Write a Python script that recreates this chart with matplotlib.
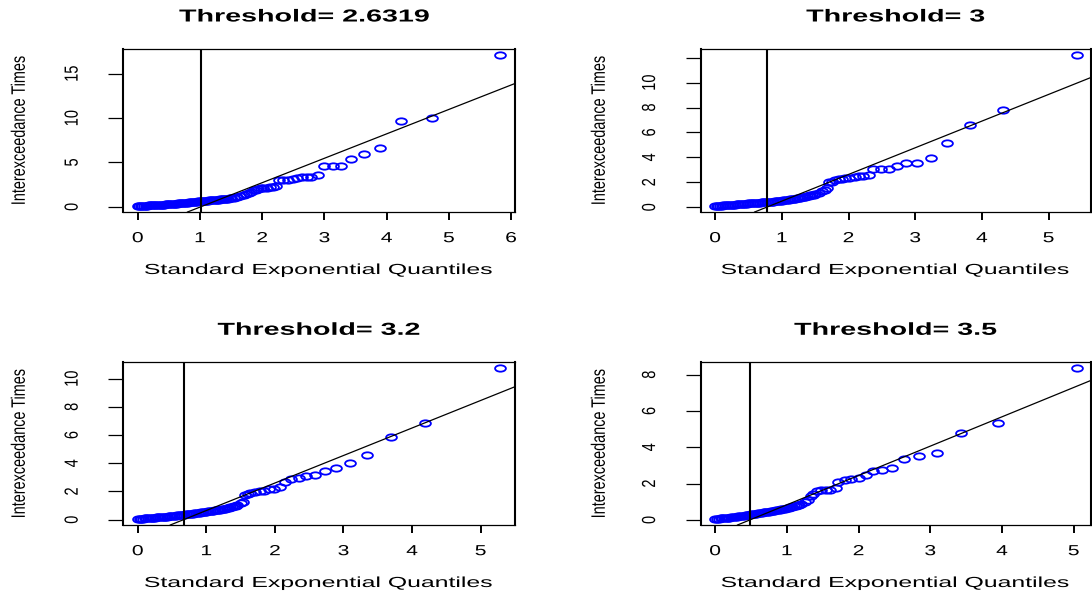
import numpy as np
import matplotlib
matplotlib.use("Agg")
import matplotlib.pyplot as plt
from matplotlib.path import Path
from matplotlib.patheffects import AbstractPathEffect
from matplotlib.transforms import Affine2D

# threshold used for each panel
thresholds = ["2.6319", "3", "3.2", "3.5"]

# quantile positions of the crowded lower part, shared by all panels
dense_q = [0.000, 0.025, 0.050, 0.075, 0.100, 0.125, 0.150, 0.175, 0.200, 0.225,
           0.250, 0.275, 0.300, 0.325, 0.350, 0.375, 0.400, 0.425, 0.450, 0.475,
           0.500, 0.525, 0.550, 0.575, 0.600, 0.625, 0.650, 0.675, 0.700, 0.725,
           0.750, 0.775, 0.800, 0.825, 0.850, 0.875, 0.900, 0.925, 0.950, 0.975,
           1.000, 1.025, 1.050, 1.075, 1.100, 1.125, 1.150, 1.175, 1.200, 1.225,
           1.250, 1.275, 1.300, 1.325, 1.350, 1.375, 1.400, 1.425, 1.450, 1.475,
           1.500]

# sorted interexceedance times: crowded part, then the upper tail
t1_low = [0.10, 0.11, 0.11, 0.12, 0.13, 0.14, 0.15, 0.16, 0.17, 0.18,
          0.19, 0.20, 0.21, 0.22, 0.23, 0.24, 0.25, 0.26, 0.27, 0.28,
          0.30, 0.31, 0.33, 0.34, 0.36, 0.37, 0.39, 0.41, 0.43, 0.44,
          0.46, 0.48, 0.49, 0.51, 0.53, 0.54, 0.56, 0.58, 0.60, 0.62,
          0.64, 0.65, 0.67, 0.68, 0.70, 0.71, 0.72, 0.74, 0.75, 0.77,
          0.78, 0.80, 0.81, 0.83, 0.84, 0.86, 0.88, 0.90, 0.92, 0.95,
          0.98]
q1_tail = [1.55, 1.60, 1.65, 1.70, 1.74, 1.78, 1.82, 1.86, 1.90, 1.94,
           1.98, 2.02, 2.07, 2.12, 2.17, 2.22, 2.27, 2.34, 2.41, 2.49,
           2.56, 2.64, 2.72, 2.79, 2.90, 2.99, 3.13, 3.27, 3.43, 3.64,
           3.89, 4.23, 4.73, 5.83]
t1_tail = [1.03, 1.10, 1.18, 1.28, 1.40, 1.55, 1.70, 1.85, 1.95, 2.03,
           2.08, 2.12, 2.15, 2.20, 2.24, 2.30, 3.01, 3.08, 3.08, 3.12,
           3.27, 3.38, 3.38, 3.38, 3.57, 4.55, 4.62, 4.62, 5.34, 5.98,
           6.58, 9.62, 9.96, 17.1]

t2_low = [0.10, 0.11, 0.11, 0.12, 0.13, 0.14, 0.15, 0.16, 0.17, 0.18,
          0.19, 0.20, 0.21, 0.22, 0.23, 0.24, 0.25, 0.26, 0.27, 0.28,
          0.30, 0.31, 0.32, 0.33, 0.34, 0.35, 0.36, 0.37, 0.38, 0.39,
          0.40, 0.41, 0.42, 0.43, 0.44, 0.45, 0.46, 0.48, 0.49, 0.51,
          0.53, 0.55, 0.56, 0.58, 0.60, 0.62, 0.64, 0.66, 0.68, 0.71,
          0.73, 0.76, 0.78, 0.81, 0.84, 0.87, 0.90, 0.94, 0.97, 1.01,
          1.05]
q2_tail = [1.55, 1.60, 1.64, 1.68, 1.70, 1.75, 1.80, 1.85, 1.90, 1.95,
           2.01, 2.09, 2.15, 2.21, 2.30, 2.37, 2.49, 2.60, 2.72, 2.86,
           3.02, 3.23, 3.47, 3.82, 4.31, 5.42]
t2_tail = [1.15, 1.30, 1.42, 1.55, 2.00, 2.05, 2.15, 2.26, 2.26, 2.31,
           2.31, 2.42, 2.47, 2.52, 2.60, 3.09, 3.09, 3.09, 3.33, 3.54,
           3.54, 3.97, 5.15, 6.63, 7.81, 12.21]

t3_low = [0.05, 0.06, 0.07, 0.08, 0.09, 0.10, 0.11, 0.12, 0.13, 0.14,
          0.15, 0.16, 0.17, 0.18, 0.19, 0.20, 0.21, 0.22, 0.23, 0.24,
          0.25, 0.27, 0.28, 0.30, 0.31, 0.33, 0.34, 0.36, 0.37, 0.39,
          0.40, 0.42, 0.43, 0.45, 0.46, 0.48, 0.49, 0.51, 0.52, 0.54,
          0.56, 0.58, 0.60, 0.62, 0.64, 0.66, 0.68, 0.70, 0.72, 0.74,
          0.76, 0.79, 0.81, 0.84, 0.87, 0.91, 0.95, 0.99, 1.05]
q3_tail = [1.50, 1.53, 1.56, 1.60, 1.64, 1.71, 1.78, 1.84, 1.91, 1.98,
           2.07, 2.15, 2.24, 2.35, 2.45, 2.58, 2.73, 2.89, 3.09, 3.34,
           3.69, 4.19, 5.29]
t3_tail = [1.15, 1.25, 1.76, 1.80, 1.87, 1.96, 2.01, 2.06, 2.15, 2.15,
           2.29, 2.70, 2.91, 2.98, 3.12, 3.17, 3.48, 3.69, 4.04, 4.56,
           5.84, 6.88, 10.73]

t4_low = [0.05, 0.06, 0.07, 0.08, 0.09, 0.10, 0.11, 0.12, 0.13, 0.14,
          0.15, 0.17, 0.18, 0.20, 0.21, 0.23, 0.24, 0.26, 0.27, 0.29,
          0.30, 0.32, 0.33, 0.35, 0.36, 0.38, 0.39, 0.41, 0.42, 0.44,
          0.45, 0.47, 0.49, 0.51, 0.53, 0.55, 0.56, 0.58, 0.60, 0.62,
          0.64, 0.66, 0.69, 0.71, 0.74, 0.77, 0.80, 0.84, 0.88]
q4_tail = [1.25, 1.29, 1.33, 1.37, 1.42, 1.48, 1.54, 1.60, 1.68, 1.72,
           1.81, 1.90, 2.00, 2.10, 2.20, 2.33, 2.47, 2.64, 2.84, 3.09,
           3.43, 3.94, 5.04]
t4_tail = [0.98, 1.10, 1.30, 1.45, 1.58, 1.64, 1.64, 1.64, 1.75, 2.08,
           2.18, 2.23, 2.29, 2.45, 2.69, 2.73, 2.86, 3.34, 3.52, 3.71,
           4.81, 5.35, 8.35]

low_times = [t1_low, t2_low, t3_low, t4_low]
tail_quantiles = [q1_tail, q2_tail, q3_tail, q4_tail]
tail_times = [t1_tail, t2_tail, t3_tail, t4_tail]

# vertical cut and fitted line (passes through (cut, 0))
cuts = [1.01, 0.772, 0.667, 0.486]
slopes = [2.75, 2.14, 1.95, 1.616]

xticks = [[0, 1, 2, 3, 4, 5, 6], [0, 1, 2, 3, 4, 5], [0, 1, 2, 3, 4, 5], [0, 1, 2, 3, 4, 5]]
yticks = [[0, 5, 10, 15], [0, 2, 4, 6, 8, 10, 12], [0, 2, 4, 6, 8, 10], [0, 2, 4, 6, 8]]
ytick_labels = [["0", "5", "10", "15"], ["0", "2", "4", "6", "8", "10", ""],
                ["0", "2", "4", "6", "8", "10"], ["0", "2", "4", "6", "8"]]


class Widen(AbstractPathEffect):
    """Stretch text horizontally about its own centre."""

    def __init__(self, sx):
        super().__init__()
        self.sx = sx

    def draw_path(self, renderer, gc, tpath, affine, rgbFace=None):
        box = tpath.get_extents(affine)
        cx = 0.5 * (box.x0 + box.x1)
        aff = affine + Affine2D().translate(-cx, 0).scale(self.sx, 1).translate(cx, 0)
        renderer.draw_path(gc, tpath, aff, rgbFace)


plt.rcParams['font.family'] = ['Liberation Sans', 'DejaVu Sans']

# open ellipse marker
ring = Path.unit_circle().transformed(Affine2D().scale(1.7, 1.0))

W, H = 1092, 593
fig = plt.figure(figsize=(W / 100, H / 100), dpi=100)

cols = [(123.3, 515.0), (700.7, 1091.0)]
rows = [(49.0, 212.0), (362.3, 525.0)]
ylabel_x = [19, 599]
title_x = [0.463, 0.5, 0.5, 0.5]

for k in range(4):
    r, c = divmod(k, 2)
    l, rt = cols[c]
    t, b = rows[r]
    ax = fig.add_axes([l / W, 1 - b / H, (rt - l) / W, (b - t) / H])

    low = low_times[k]
    q = np.array(dense_q[:len(low)] + tail_quantiles[k])
    y = np.array(low + tail_times[k])
    ax.plot(q, y, linestyle='none', marker=ring, markersize=7.8,
            mfc='none', mec='#0000ff', mew=1.3)
    ax.axvline(cuts[k], color='black', lw=1.5)
    ax.axline((cuts[k], 0), slope=slopes[k], color='black', lw=0.9)

    xr = q.max() - q.min()
    yr = y.max() - y.min()
    ax.set_xlim(q.min() - 0.04 * xr, q.max() + 0.04 * xr)
    ax.set_ylim(y.min() - 0.04 * yr, y.max() + 0.04 * yr)

    for side in ['left', 'right']:
        ax.spines[side].set_linewidth(1.5)
    for side in ['top', 'bottom']:
        ax.spines[side].set_linewidth(0.9)

    ax.set_xticks(xticks[k])
    ax.set_xticklabels([str(v) for v in xticks[k]])
    ax.set_yticks(yticks[k])
    ax.set_yticklabels(ytick_labels[k])
    ax.tick_params(axis='x', length=5.8, width=1.4, pad=8, labelsize=10.5)
    ax.tick_params(axis='y', length=10.8, width=0.9, pad=21, labelsize=10.5,
                   labelrotation=90)
    for lab in ax.get_xticklabels():
        lab.set_path_effects([Widen(1.45)])
    for lab in ax.get_yticklabels():
        lab.set_va('center')
        lab.set_path_effects([Widen(1.3)])

    ax.set_title("Threshold= " + thresholds[k], fontsize=12.5, fontweight='bold',
                 x=title_x[k], y=1 + 32 / (b - t), va='center', pad=0,
                 path_effects=[Widen(1.65)])

    ax.set_xlabel("Standard Exponential Quantiles", fontsize=10.5,
                  path_effects=[Widen(1.7)], va='center')
    ax.xaxis.set_label_coords(((l + rt) / 2) / W, 1 - (b + 58) / H,
                              transform=fig.transFigure)
    ax.set_ylabel("Interexceedance Times", fontsize=10.4, va='center',
                  path_effects=[Widen(1.35)])
    ax.yaxis.set_label_coords(ylabel_x[c] / W, 1 - ((t + b) / 2) / H,
                              transform=fig.transFigure)

fig.savefig("out.png", dpi=100)
